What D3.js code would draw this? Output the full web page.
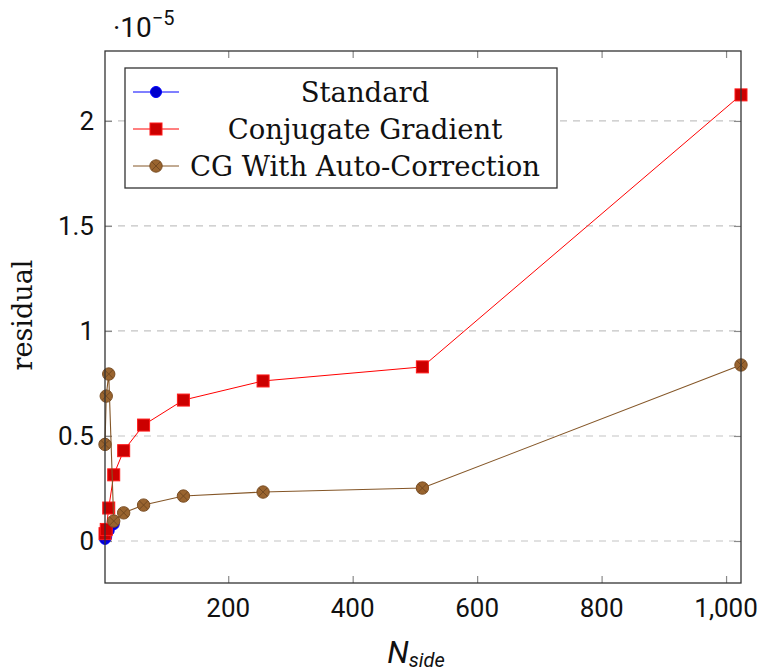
<!DOCTYPE html>
<html>
<head>
<meta charset="utf-8">
<script src="https://cdn.jsdelivr.net/npm/d3@7"></script>
<style>
  html, body { margin: 0; padding: 0; background: #fff; }
  svg { display: block; }
</style>
</head>
<body>
<svg id="chart" width="765" height="672"></svg>
<script>
// ---- Data (values in units of 1e-5) ----
const nSide = [2, 4, 8, 16, 32, 64, 128, 256, 512, 1024];
const standardX = [2, 4, 8, 16];
const standardY = [0.01, 0.02, 0.05, 0.08];
const cgY = [0.035, 0.055, 0.157, 0.315, 0.43, 0.552, 0.671, 0.762, 0.829, 2.124];
const cgAutoY = [0.46, 0.69, 0.795, 0.095, 0.134, 0.171, 0.214, 0.233, 0.252, 0.838];
const xTicks = [200, 400, 600, 800, 1000];
const yTicks = [0, 0.5, 1, 1.5, 2];
const seriesNames = ["Standard", "Conjugate Gradient", "CG With Auto-Correction"];

const svg = d3.select("#chart");
const L = 105, R = 741, T = 51, B = 583;

const x = d3.scaleLinear().domain([2, 1024]).range([L, R]);
const y = d3.scaleLinear().domain([-0.2, 2.333]).range([B, T]);

const sans = "Roboto, 'DejaVu Sans', sans-serif";
const serif = "'DejaVu Serif', 'Liberation Serif', serif";

// grid
svg.append("g").selectAll("line").data(yTicks).join("line")
  .attr("x1", L).attr("x2", R)
  .attr("y1", d => y(d)).attr("y2", d => y(d))
  .attr("stroke", "#c4c4c4").attr("stroke-width", 1.2)
  .attr("stroke-dasharray", "7,6");

// axes with inward ticks
const tickColor = "#8a8a8a";
const xAxisB = d3.axisBottom(x).tickValues(xTicks).tickSize(-7).tickFormat("");
const xAxisT = d3.axisTop(x).tickValues(xTicks).tickSize(-7).tickFormat("");
const yAxisL = d3.axisLeft(y).tickValues(yTicks).tickSize(-7).tickFormat("");
const yAxisR = d3.axisRight(y).tickValues(yTicks).tickSize(-7).tickFormat("");
function styleAxis(g) {
  g.select(".domain").remove();
  g.selectAll(".tick line").attr("stroke", tickColor).attr("stroke-width", 1.2);
}
svg.append("g").attr("transform", `translate(0,${B})`).call(xAxisB).call(styleAxis);
svg.append("g").attr("transform", `translate(0,${T})`).call(xAxisT).call(styleAxis);
svg.append("g").attr("transform", `translate(${L},0)`).call(yAxisL).call(styleAxis);
svg.append("g").attr("transform", `translate(${R},0)`).call(yAxisR).call(styleAxis);

// tick labels
const fmt = d3.format(",");
svg.append("g").selectAll("text").data(xTicks).join("text")
  .attr("x", d => x(d)).attr("y", 617)
  .attr("text-anchor", "middle")
  .attr("font-family", sans).attr("font-size", 26).attr("fill", "#111")
  .text(d => fmt(d));
svg.append("g").selectAll("text").data(yTicks).join("text")
  .attr("x", 94).attr("y", d => y(d) + 9.5)
  .attr("text-anchor", "end")
  .attr("font-family", sans).attr("font-size", 26).attr("fill", "#111")
  .text(d => String(d));

// multiplier
const mult = svg.append("text").attr("x", 113).attr("y", 37)
  .attr("font-family", sans).attr("font-size", 28).attr("fill", "#111");
mult.append("tspan").text("·10");
mult.append("tspan").attr("dy", -12).attr("font-size", 20).text("−5");

// axis labels
const xl = svg.append("text").attr("x", 416).attr("y", 663)
  .attr("text-anchor", "middle").attr("font-family", sans).attr("fill", "#111")
  .attr("font-style", "italic");
xl.append("tspan").attr("font-size", 31).text("N");
xl.append("tspan").attr("font-size", 20).attr("dy", 4).text("side");

svg.append("text")
  .attr("transform", "translate(32,315) rotate(-90)")
  .attr("text-anchor", "middle").attr("font-family", serif)
  .attr("font-size", 27).attr("fill", "#111")
  .text("residual");

// series
const line = d3.line().x(d => x(d[0])).y(d => y(d[1]));
const stdData = standardX.map((v, i) => [v, standardY[i]]);
const cgData = nSide.map((v, i) => [v, cgY[i]]);
const autoData = nSide.map((v, i) => [v, cgAutoY[i]]);

const plot = svg.append("g");
function circleMark(g, cx, cy, r, fill, stroke) {
  g.append("circle").attr("cx", cx).attr("cy", cy).attr("r", r)
    .attr("fill", fill).attr("stroke", stroke).attr("stroke-width", 1);
}
function squareMark(g, cx, cy, s) {
  g.append("rect").attr("x", cx - s / 2).attr("y", cy - s / 2)
    .attr("width", s).attr("height", s)
    .attr("fill", "#cc0000").attr("stroke", "#ff1a1a").attr("stroke-width", 1);
}
function otimesMark(g, cx, cy, r) {
  g.append("circle").attr("cx", cx).attr("cy", cy).attr("r", r)
    .attr("fill", "#99642f").attr("stroke", "#7a4e24").attr("stroke-width", 1);
  const k = r * 0.68;
  g.append("path")
    .attr("d", `M${cx - k},${cy - k}L${cx + k},${cy + k}M${cx - k},${cy + k}L${cx + k},${cy - k}`)
    .attr("stroke", "#6e4620").attr("stroke-width", 0.9);
}

// Standard
plot.append("path").attr("d", line(stdData)).attr("fill", "none")
  .attr("stroke", "#0000ff").attr("stroke-width", 1);
stdData.forEach(d => circleMark(plot, x(d[0]), y(d[1]), 5.5, "#0000cc", "#0000ff"));
// CG
plot.append("path").attr("d", line(cgData)).attr("fill", "none")
  .attr("stroke", "#ff0000").attr("stroke-width", 1);
cgData.forEach(d => squareMark(plot, x(d[0]), y(d[1]), 12));
// CG auto
plot.append("path").attr("d", line(autoData)).attr("fill", "none")
  .attr("stroke", "#845627").attr("stroke-width", 1.1);
autoData.forEach(d => otimesMark(plot, x(d[0]), y(d[1]), 6.2));

// frame
svg.append("rect").attr("x", L).attr("y", T).attr("width", R - L).attr("height", B - T)
  .attr("fill", "none").attr("stroke", "#333").attr("stroke-width", 1.3);

// legend
const lg = svg.append("g");
lg.append("rect").attr("x", 125).attr("y", 68).attr("width", 432).attr("height", 120)
  .attr("fill", "#fff").attr("stroke", "#333").attr("stroke-width", 1.3);
const rowsY = [92, 129, 166];
const lineCols = ["#0000ff", "#ff0000", "#845627"];
rowsY.forEach((ry, i) => {
  lg.append("line").attr("x1", 133).attr("x2", 179).attr("y1", ry).attr("y2", ry)
    .attr("stroke", lineCols[i]).attr("stroke-width", 1);
  if (i === 0) circleMark(lg, 156, ry, 5.5, "#0000cc", "#0000ff");
  if (i === 1) squareMark(lg, 156, ry, 12);
  if (i === 2) otimesMark(lg, 156, ry, 6.2);
  lg.append("text").attr("x", 365).attr("y", ry + 9.5)
    .attr("text-anchor", "middle").attr("font-family", serif)
    .attr("font-size", 27.5).attr("fill", "#111")
    .text(seriesNames[i]);
});
</script>
</body>
</html>
